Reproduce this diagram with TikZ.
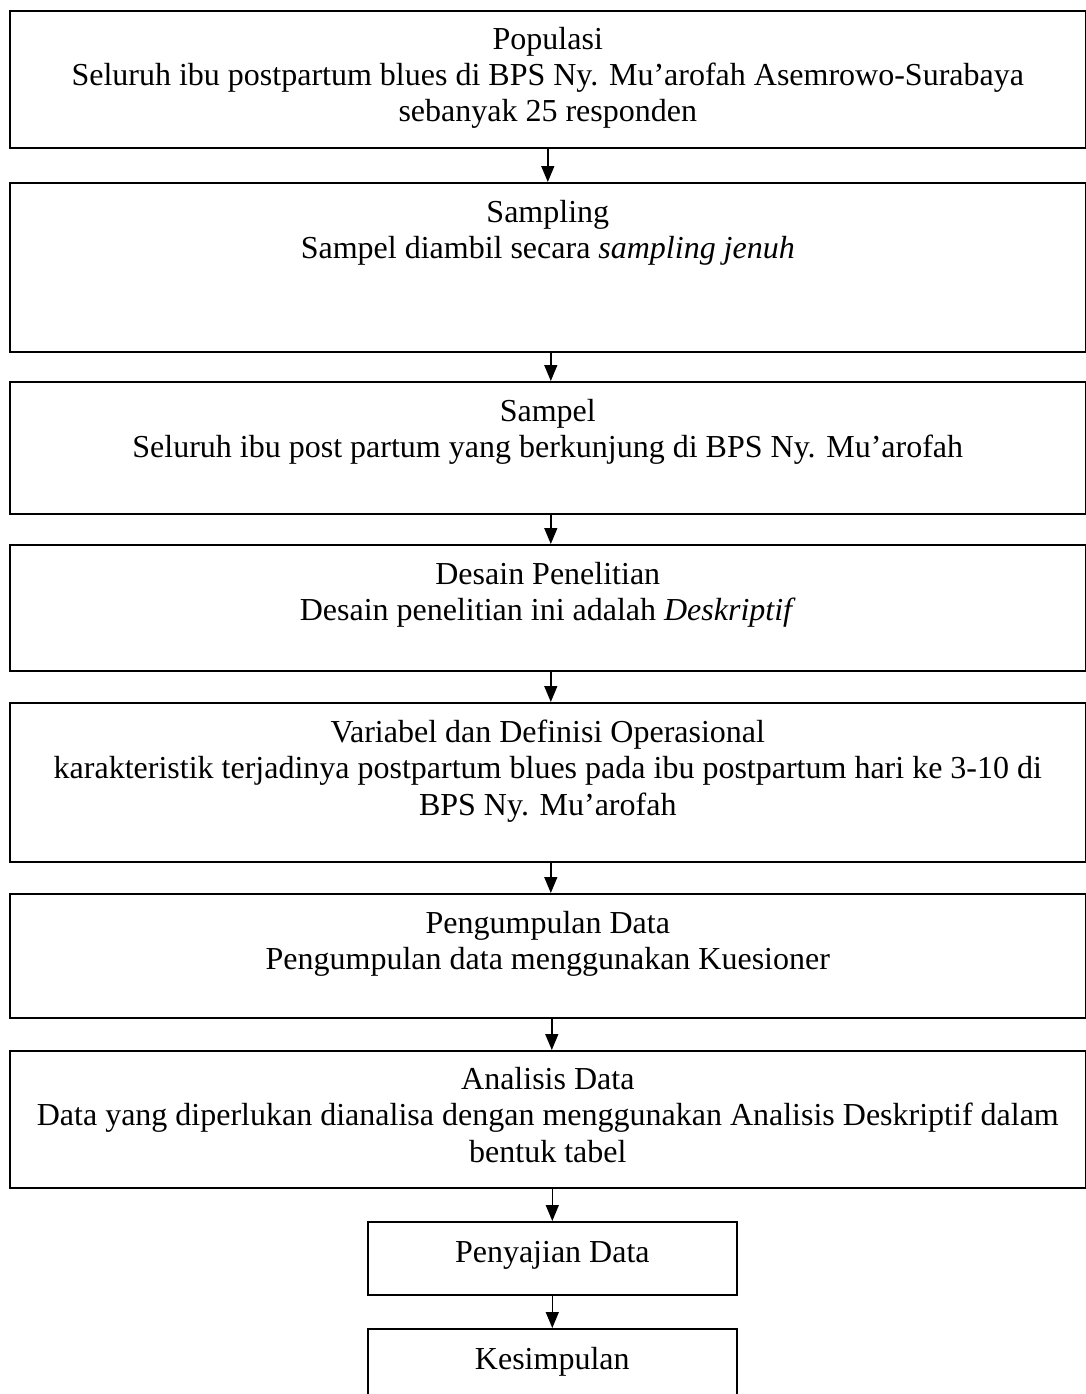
\documentclass[tikz,border=0pt]{standalone}
\usepackage{fontspec}
\setmainfont{Liberation Serif}
\usetikzlibrary{arrows.meta}
\begin{document}
\begin{tikzpicture}[x=1pt,y=-1pt,
  box/.style={draw=black, line width=1.6pt, rectangle, inner sep=0pt, anchor=north west},
  wide/.style={box, minimum width=1076pt},
  small/.style={box, minimum width=369pt},
  txt/.style={anchor=base, align=center, inner sep=0pt, font=\fontsize{32}{36.5}\selectfont},
  conn/.style={line width=1.4pt, -{Triangle[length=16pt,width=13pt]}}]
\useasboundingbox (0,0) rectangle (1086,1394);
\clip (0,0) rectangle (1086,1394);
\node[wide, minimum height=137pt] (b1) at (9,10) {};
\node[wide, minimum height=169pt] (b2) at (9,182) {};
\node[wide, minimum height=132pt] (b3) at (9,381) {};
\node[wide, minimum height=126pt] (b4) at (9,544) {};
\node[wide, minimum height=159pt] (b5) at (9,702) {};
\node[wide, minimum height=124pt] (b6) at (9,893) {};
\node[wide, minimum height=137pt] (b7) at (9,1050) {};
\node[small, minimum height=73pt] (b8) at (367,1221) {};
\node[small, minimum height=130pt] (b9) at (367,1328) {};

% anchor=base is the baseline of the last line
\node[txt] (t1) at ([yshift=-112pt]b1.north) {Populasi\\Seluruh ibu postpartum blues di BPS Ny. Mu’arofah Asemrowo-Surabaya\\sebanyak 25 responden};
\node[txt] (t2) at ([yshift=-76.5pt]b2.north) {Sampling\\Sampel diambil secara \textit{sampling jenuh}};
\node[txt] (t3) at ([yshift=-76.5pt]b3.north) {Sampel\\Seluruh ibu post partum yang berkunjung di BPS Ny. Mu’arofah};
\node[txt] (t4) at ([yshift=-76.5pt]b4.north) {Desain Penelitian\\Desain penelitian ini adalah \textit{Deskriptif}};
\node[txt] (t5) at ([yshift=-113pt]b5.north) {Variabel dan Definisi Operasional\\karakteristik terjadinya postpartum blues pada ibu postpartum hari ke 3-10 di\\BPS Ny. Mu’arofah};
\node[txt] (t6) at ([yshift=-76.5pt]b6.north) {Pengumpulan Data\\Pengumpulan data menggunakan Kuesioner};
\node[txt] (t7) at ([yshift=-112pt]b7.north) {Analisis Data\\Data yang diperlukan dianalisa dengan menggunakan Analisis Deskriptif dalam\\bentuk tabel};
\node[txt] (t8) at ([yshift=-41pt]b8.north) {Penyajian Data};
\node[txt] (t9) at ([yshift=-41pt]b9.north) {Kesimpulan};

\draw[conn] (b1.south) -- (b2.north);
\draw[conn] ([xshift=3pt]b2.south) -- ([xshift=3pt]b3.north);
\draw[conn] ([xshift=3pt]b3.south) -- ([xshift=3pt]b4.north);
\draw[conn] ([xshift=3pt]b4.south) -- ([xshift=3pt]b5.north);
\draw[conn] ([xshift=3pt]b5.south) -- ([xshift=3pt]b6.north);
\draw[conn] ([xshift=4pt]b6.south) -- ([xshift=4pt]b7.north);
\draw[conn] ([xshift=4.5pt]b7.south) -- (b8.north);
\draw[conn] (b8.south) -- (b9.north);
\end{tikzpicture}
\end{document}
